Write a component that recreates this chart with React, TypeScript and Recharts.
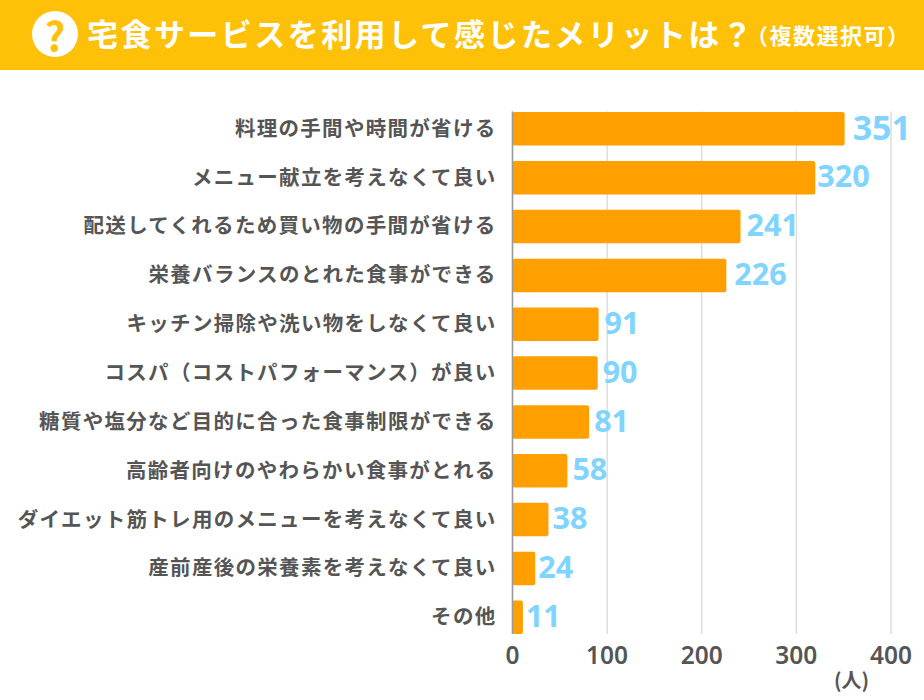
import { BarChart, Bar, XAxis, YAxis, CartesianGrid, LabelList } from 'recharts'

const categories = [
  '料理の手間や時間が省ける',
  'メニュー献立を考えなくて良い',
  '配送してくれるため買い物の手間が省ける',
  '栄養バランスのとれた食事ができる',
  'キッチン掃除や洗い物をしなくて良い',
  'コスパ（コストパフォーマンス）が良い',
  '糖質や塩分など目的に合った食事制限ができる',
  '高齢者向けのやわらかい食事がとれる',
  'ダイエット筋トレ用のメニューを考えなくて良い',
  '産前産後の栄養素を考えなくて良い',
  'その他',
]
const values = [351, 320, 241, 226, 91, 90, 81, 58, 38, 24, 11]
const xTicks = [0, 100, 200, 300, 400]
// hand placed labels in the original, not a constant gap from the bar
const labelNudge = [3, -3, 1, 3, 1, 0, 0, 0, -1, -2, -2]

const data = categories.map((name, i) => ({ name, value: values[i] }))

const JP = '"Noto Sans CJK JP", sans-serif'

function ValueLabel({ x, y, width, height, value, index }: any) {
  return (
    <text
      x={x + width + 5 + labelNudge[index]}
      y={y + height / 2 - 1}
      dy="0.35em"
      fill="#80d4ff"
      fontSize={index === 0 ? 34 : 30.5}
      fontWeight={700}
      fontFamily='"Noto Sans", sans-serif'
    >
      {value}
    </text>
  )
}

export default function App() {
  return (
    <div style={{ position: 'absolute', left: 0, top: 0, width: 924, height: 700, background: '#fff', overflow: 'hidden', fontFamily: JP }}>
      <div style={{ position: 'absolute', left: 0, top: 0, width: 924, height: 70, background: '#ffc107' }} />
      <div style={{ position: 'absolute', left: 32, top: 11, width: 46, height: 46, borderRadius: 23, background: '#fff', color: '#ffc107', fontSize: 40, fontWeight: 700, lineHeight: '46px', textAlign: 'center' }}>?</div>
      <div style={{ position: 'absolute', left: 87, top: 10, color: '#fff', fontSize: 31, fontWeight: 700, lineHeight: '46px', whiteSpace: 'nowrap', letterSpacing: 2.45 }}>
        宅食サービスを利用して感じたメリットは？
      </div>
      <div style={{ position: 'absolute', left: 746, top: 11, color: '#fff', fontSize: 22, fontWeight: 700, lineHeight: '46px', whiteSpace: 'nowrap', letterSpacing: 1.5 }}>
        （複数選択可）
      </div>
      <BarChart
        width={924}
        height={700}
        data={data}
        layout="vertical"
        margin={{ top: 111.5, right: 33, bottom: 0, left: 0 }}
        style={{ overflow: 'visible' }}
      >
        <CartesianGrid horizontal={false} stroke="#dddddd" strokeWidth={1.5} />
        <XAxis
          type="number"
          domain={[0, 400]}
          ticks={xTicks}
          height={66}
          tickLine={false}
          axisLine={false}
          tickMargin={7}
          tick={{ fontSize: 24.5, fontWeight: 600, fill: '#555555', fontFamily: '"Noto Sans", sans-serif' }}
        />
        <YAxis
          type="category"
          dataKey="name"
          width={512.5}
          interval={0}
          padding={{ top: -7.4, bottom: -7.4 }}
          tickLine={false}
          axisLine={{ stroke: '#999999', strokeWidth: 1.5 }}
          tickMargin={10}
          tick={{ fontSize: 20.5, fontWeight: 700, fill: '#555555', fontFamily: JP, letterSpacing: 1.3 }}
        />
        <Bar dataKey="value" fill="#ffa000" barSize={33.5} radius={2} isAnimationActive={false}>
          <LabelList dataKey="value" content={ValueLabel} />
        </Bar>
      </BarChart>
      <div style={{ position: 'absolute', left: 834, top: 666, color: '#555555', fontSize: 20, fontWeight: 700, lineHeight: '28px', whiteSpace: 'nowrap' }}>(人)</div>
    </div>
  )
}
